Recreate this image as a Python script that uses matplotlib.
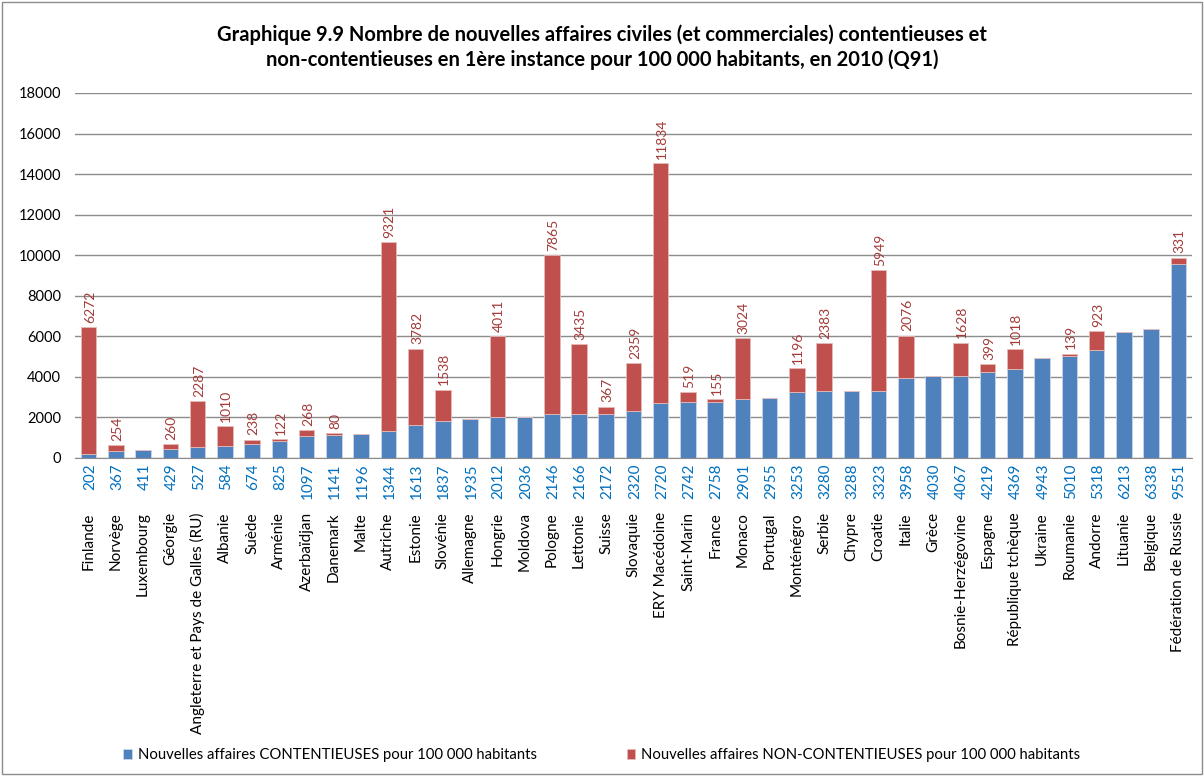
import matplotlib
matplotlib.use('Agg')
import matplotlib.pyplot as plt
import matplotlib.transforms as mtransforms
from matplotlib.patches import Rectangle
import numpy as np

plt.rcParams['font.family'] = ['Lato', 'DejaVu Sans']

countries = [
    'Finlande', 'Norvège', 'Luxembourg', 'Géorgie', 'Angleterre et Pays de Galles (RU)',
    'Albanie', 'Suède', 'Arménie', 'Azerbaïdjan', 'Danemark', 'Malte', 'Autriche',
    'Estonie', 'Slovénie', 'Allemagne', 'Hongrie', 'Moldova', 'Pologne', 'Lettonie',
    'Suisse', 'Slovaquie', 'ERY Macédoine', 'Saint-Marin', 'France', 'Monaco',
    'Portugal', 'Monténégro', 'Serbie', 'Chypre', 'Croatie', 'Italie', 'Grèce',
    'Bosnie-Herzégovine', 'Espagne', 'République tchèque', 'Ukraine', 'Roumanie',
    'Andorre', 'Lituanie', 'Belgique', 'Fédération de Russie',
]
contentieuses = [
    202, 367, 411, 429, 527, 584, 674, 825, 1097, 1141, 1196, 1344, 1613, 1837,
    1935, 2012, 2036, 2146, 2166, 2172, 2320, 2720, 2742, 2758, 2901, 2955, 3253,
    3280, 3288, 3323, 3958, 4030, 4067, 4219, 4369, 4943, 5010, 5318, 6213, 6338, 9551,
]
non_contentieuses = [
    6272, 254, 0, 260, 2287, 1010, 238, 122, 268, 80, 0, 9321, 3782, 1538,
    0, 4011, 0, 7865, 3435, 367, 2359, 11834, 519, 155, 3024, 0, 1196,
    2383, 0, 5949, 2076, 0, 1628, 399, 1018, 0, 139, 923, 0, 0, 331,
]

title = ("Graphique 9.9 Nombre de nouvelles affaires civiles (et commerciales) contentieuses et\n"
         "non-contentieuses en 1ère instance pour 100 000 habitants, en 2010 (Q91)")

BLUE = '#4F81BD'
RED = '#C0504D'

fig = plt.figure(figsize=(12.04, 7.76), dpi=100)
ax = fig.add_axes([0.0623, 0.4098, 0.9277, 0.4704])

x = np.arange(len(countries))
cont = np.array(contentieuses)
nonc = np.array(non_contentieuses)

ax.bar(x, cont, width=0.57, color=BLUE, edgecolor='#C9D6E8', linewidth=0.6,
       label='Nouvelles affaires CONTENTIEUSES pour 100 000 habitants', zorder=3)
ax.bar(x, nonc, width=0.57, bottom=cont, color=RED, edgecolor='#E6B9B8', linewidth=0.6,
       label='Nouvelles affaires NON-CONTENTIEUSES pour 100 000 habitants', zorder=3)

ax.set_xlim(-0.5, len(countries) - 0.5)
ax.set_ylim(0, 18000)
ax.set_yticks(range(0, 18001, 2000))
ax.tick_params(axis='y', length=0, labelsize=10.5, pad=10)
ax.grid(axis='y', color='#8C8C8C', linewidth=1.0, zorder=0)
for s in ['top', 'right', 'left']:
    ax.spines[s].set_visible(False)
ax.spines['bottom'].set_color('#8C8C8C')

# country names under the value labels
ax.set_xticks(x)
ax.set_xticklabels(countries, rotation=90, fontsize=11, va='top', ha='center')
ax.tick_params(axis='x', length=0, pad=39)

# blue value labels below axis
trans = mtransforms.blended_transform_factory(ax.transData, ax.transAxes)
for xi, v in zip(x, cont):
    ax.annotate(str(v), xy=(xi, 0), xycoords=trans, xytext=(1, -4),
                textcoords='offset points', rotation=90, ha='center', va='top',
                fontsize=11, color='#0070C0')

# red value labels above bars
for xi, c, n in zip(x, cont, nonc):
    if n > 0:
        ax.annotate(str(n), xy=(xi, c + n), xytext=(1, 3), textcoords='offset points',
                    rotation=90, ha='center', va='bottom', fontsize=10, color='#A33B39')

fig.suptitle(title, fontsize=14.5, fontweight='bold', y=0.968, linespacing=1.25)

fig.legend(loc='center', bbox_to_anchor=(0.5, 0.027), ncol=2, frameon=False,
           fontsize=10.7, handlelength=0.6, handleheight=0.6, columnspacing=6,
           handletextpad=0.4)

fig.patches.append(Rectangle((0.002, 0.003), 0.996, 0.994, transform=fig.transFigure,
                             fill=False, edgecolor='#8C8C8C', linewidth=1))

fig.savefig('out.png', dpi=100)
